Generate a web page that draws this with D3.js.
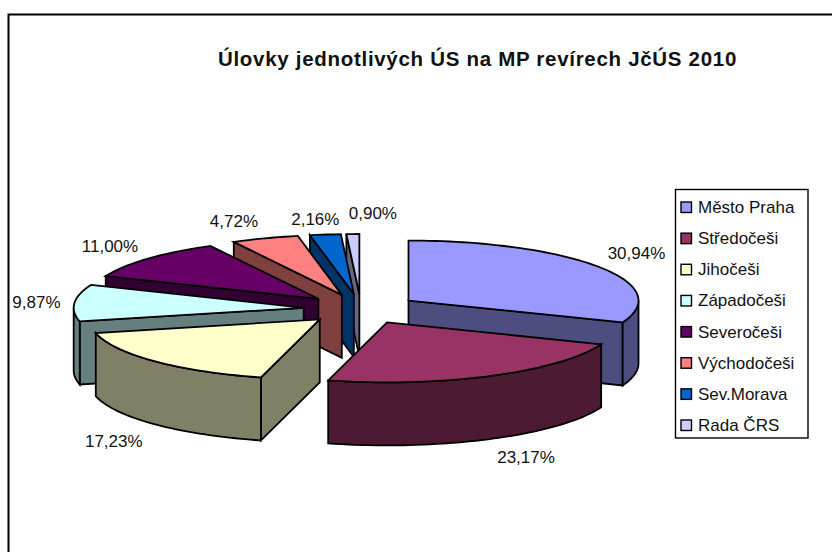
<!DOCTYPE html>
<html>
<head>
<meta charset="utf-8">
<script src="https://cdn.jsdelivr.net/npm/d3@7"></script>
<style>
  html, body { margin: 0; padding: 0; background: #fff; }
  text { font-family: "Liberation Sans", Arial, sans-serif; fill: #111; }
</style>
</head>
<body>
<div id="main"></div>
<script>
// data
var categories = ["Město Praha", "Středočeši", "Jihočeši", "Západočeši", "Severočeši", "Východočeši", "Sev.Morava", "Rada ČRS"];
var values = [30.94, 23.17, 17.23, 9.87, 11.00, 4.72, 2.16, 0.90];
var valueLabels = ["30,94%", "23,17%", "17,23%", "9,87%", "11,00%", "4,72%", "2,16%", "0,90%"];
var topColors = ["#9999FF", "#993366", "#FFFFCC", "#CCFFFF", "#660066", "#FF8080", "#0066CC", "#CCCCFF"];
var sideColors = ["#4D4D80", "#4D1A33", "#808066", "#668080", "#330033", "#804040", "#003366", "#666680"];

var width = 832, height = 552;
var cx = 361, cy = 309,          // centre of the pie before the slices are pulled out
    rx = 230, ry = 60,           // tilted radius
    depth = 63,
    explode = 0.25;              // same as excel "pie explosion" 25%

// label shift from the rim of the slice
var labelShift = [[38, -14], [35, 18], [-41, 17], [-38, -1], [-38, -13], [-31, -17], [-10, -16], [20, -21]];

var svg = d3.select("#main").append("svg")
    .attr("width", width)
    .attr("height", height)
    .style("display", "block");

// chart frame, only top and left edges are in the picture
svg.append("path")
    .attr("d", "M8.5," + height + "V14.5H" + width)
    .attr("fill", "none")
    .attr("stroke", "#000")
    .attr("stroke-width", 2);

svg.append("text")
    .attr("x", 477.5)
    .attr("y", 65.5)
    .attr("text-anchor", "middle")
    .style("font-size", "20.5px")
    .style("font-weight", "bold")
    .style("letter-spacing", "0.7px")
    .text("Úlovky jednotlivých ÚS na MP revírech JčÚS 2010");

var color = d3.scaleOrdinal().domain(categories).range(topColors);
var sideColor = d3.scaleOrdinal().domain(categories).range(sideColors);

var pie = d3.pie().sort(null).value(function(d, i) { return values[i]; });
var slices = pie(categories);

var line = d3.line();

// point on the tilted ellipse, angle measured clockwise from 12 o'clock
function rim(c, a) {
    return [c[0] + rx * Math.sin(a), c[1] - ry * Math.cos(a)];
}

function sliceCentre(d) {
    var mid = (d.startAngle + d.endAngle) / 2;
    return [cx + explode * rx * Math.sin(mid), cy - explode * ry * Math.cos(mid)];
}

function arcPoints(c, a0, a1) {
    var n = Math.max(2, Math.ceil((a1 - a0) / 0.03));
    return d3.range(n + 1).map(function(i) { return rim(c, a0 + (a1 - a0) * i / n); });
}

function drop(p) {
    return [p[0], p[1] + depth];
}

// wall under an edge given as list of points
function wall(pts) {
    return line(pts.concat(pts.slice().reverse().map(drop))) + "Z";
}

// back slices first so the front ones paint over them
var order = slices.slice().sort(function(a, b) {
    return Math.cos((b.startAngle + b.endAngle) / 2) < Math.cos((a.startAngle + a.endAngle) / 2) ? -1 : 1;
});

var g = svg.selectAll("g.slice")
    .data(order)
    .enter()
    .append("g")
    .attr("class", "slice")
    .attr("stroke", "#000")
    .attr("stroke-width", 1.8)
    .attr("stroke-linejoin", "miter");

g.each(function(d) {
    var el = d3.select(this);
    var c = sliceCentre(d);
    var a0 = d.startAngle, a1 = d.endAngle;
    var side = sideColor(d.data);

    // cut faces, only the ones turned to the viewer
    if (Math.sin(a0) < 0) {
        el.append("path").attr("fill", side).attr("d", wall([c, rim(c, a0)]));
    }
    if (Math.sin(a1) > 0) {
        el.append("path").attr("fill", side).attr("d", wall([c, rim(c, a1)]));
    }
    // outer wall, front half of the ellipse only
    var f0 = Math.max(a0, Math.PI / 2), f1 = Math.min(a1, 3 * Math.PI / 2);
    if (f1 > f0) {
        el.append("path").attr("fill", side).attr("d", wall(arcPoints(c, f0, f1)));
    }
    // top
    el.append("path")
        .attr("fill", color(d.data))
        .attr("d", line([c].concat(arcPoints(c, a0, a1))) + "Z");
});

// value labels
svg.selectAll("text.value")
    .data(slices)
    .enter()
    .append("text")
    .attr("class", "value")
    .attr("text-anchor", "middle")
    .style("font-size", "17px")
    .attr("x", function(d, i) {
        return rim(sliceCentre(d), (d.startAngle + d.endAngle) / 2)[0] + labelShift[i][0];
    })
    .attr("y", function(d, i) {
        var mid = (d.startAngle + d.endAngle) / 2;
        var p = rim(sliceCentre(d), mid);
        return p[1] + (Math.cos(mid) < 0 ? depth : 0) + labelShift[i][1] + 6;
    })
    .text(function(d, i) { return valueLabels[i]; });

// legend
var legendY = d3.scalePoint().domain(categories).range([207, 425]);

svg.append("rect")
    .attr("x", 675.5)
    .attr("y", 189.5)
    .attr("width", 132.5)
    .attr("height", 248.5)
    .attr("fill", "#fff")
    .attr("stroke", "#000")
    .attr("stroke-width", 1.4);

var item = svg.selectAll("g.legend")
    .data(categories)
    .enter()
    .append("g")
    .attr("class", "legend")
    .attr("transform", function(d) { return "translate(681," + legendY(d) + ")"; });

item.append("rect")
    .attr("x", 0)
    .attr("y", -5)
    .attr("width", 10.5)
    .attr("height", 10.5)
    .attr("fill", function(d) { return color(d); })
    .attr("stroke", "#000")
    .attr("stroke-width", 1.4);

item.append("text")
    .attr("x", 17)
    .attr("y", 6)
    .style("font-size", "17px")
    .text(function(d) { return d; });
</script>
</body>
</html>
